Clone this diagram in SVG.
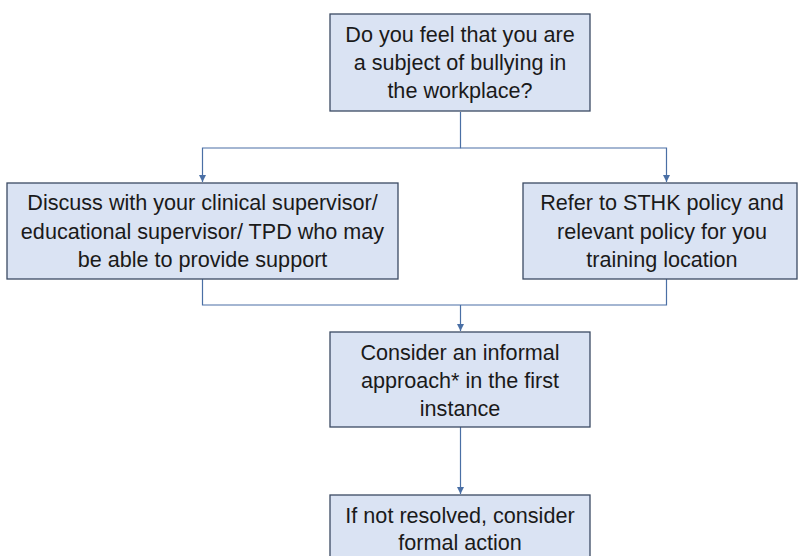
<svg xmlns="http://www.w3.org/2000/svg" width="798" height="556" viewBox="0 0 798 556">
<style>
.box{fill:#dae3f3;stroke:#3b4a63;stroke-width:1.3}
.t{font-family:"Liberation Sans",Arial,sans-serif;font-size:21.6px;fill:#1a1a1a;text-anchor:middle}
.c{fill:none;stroke:#4a6fa5;stroke-width:1.2}
</style>
<defs>
<marker id="arr" viewBox="0 0 10 10" refX="10" refY="5" markerWidth="7" markerHeight="7" orient="auto" markerUnits="userSpaceOnUse">
<path d="M0,0 L10,5 L0,10 z" fill="#4a6fa5"/>
</marker>
</defs>
<rect width="798" height="556" fill="#ffffff"/>
<g id="connectors">
<path class="c" d="M460.5,112 V148 H202.5 V182" marker-end="url(#arr)"/>
<path class="c" d="M460.5,148 H666.5 V182" marker-end="url(#arr)"/>
<path class="c" d="M202.5,279 V305 H666.5 V279"/>
<path class="c" d="M460.5,305 V331" marker-end="url(#arr)"/>
<path class="c" d="M460.5,427 V494" marker-end="url(#arr)"/>
</g>
<g id="n1">
<rect class="box" x="330" y="14" width="260" height="97"/>
<text class="t" x="460" y="42">Do you feel that you are</text>
<text class="t" x="460" y="70">a subject of bullying in</text>
<text class="t" x="460" y="98">the workplace?</text>
</g>
<g id="n2">
<rect class="box" x="7" y="183" width="391" height="96"/>
<text class="t" x="202.5" y="210">Discuss with your clinical supervisor/</text>
<text class="t" x="202.5" y="239">educational supervisor/ TPD who may</text>
<text class="t" x="202.5" y="267">be able to provide support</text>
</g>
<g id="n3">
<rect class="box" x="523" y="183" width="274" height="96"/>
<text class="t" x="662" y="210">Refer to STHK policy and</text>
<text class="t" x="662" y="239">relevant policy for you</text>
<text class="t" x="662" y="267">training location</text>
</g>
<g id="n4">
<rect class="box" x="330" y="332" width="260" height="95"/>
<text class="t" x="460" y="360">Consider an informal</text>
<text class="t" x="460" y="388">approach* in the first</text>
<text class="t" x="460" y="416">instance</text>
</g>
<g id="n5">
<rect class="box" x="330" y="495" width="260" height="70"/>
<text class="t" x="460" y="523">If not resolved, consider</text>
<text class="t" x="460" y="550">formal action</text>
</g>
</svg>
